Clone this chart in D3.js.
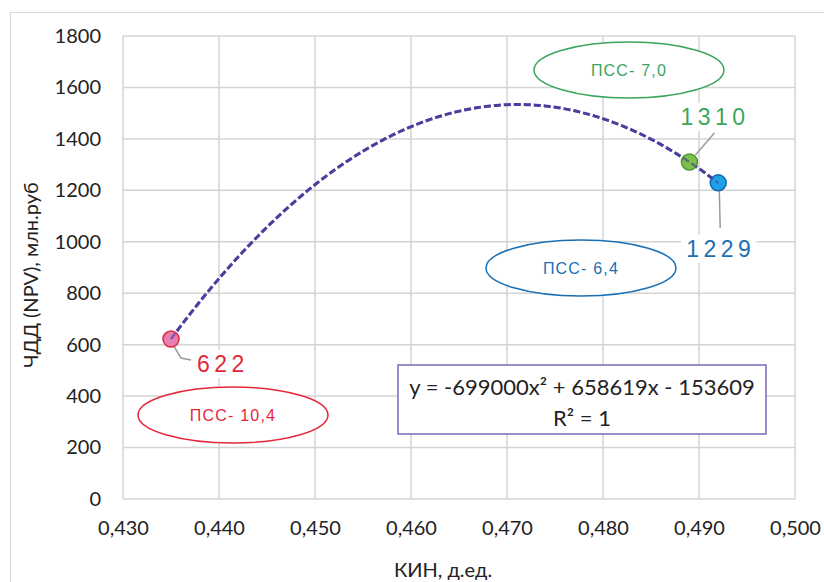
<!DOCTYPE html>
<html><head><meta charset="utf-8">
<script src="https://cdn.jsdelivr.net/npm/d3@7"></script>
<style>body{margin:0;background:#fff}svg{display:block}</style>
</head><body>
<script>
// data
const kin = [0.435, 0.489, 0.492];
const npv = [622, 1310, 1229];
const valueLabels = ["622", "1310", "1229"];
const scenarioLabels = ["ПСС- 10,4", "ПСС- 7,0", "ПСС- 6,4"];
const pointFill = ["#e87fb4", "#7cbf4a", "#1ea0e6"];
const pointStroke = ["#dc2b3c", "#4f9a36", "#1766ad"];
const labelColor = ["#e3273a", "#3aa55c", "#1a6fb3"];
const xTicks = [0.43, 0.44, 0.45, 0.46, 0.47, 0.48, 0.49, 0.50];
const yTicks = [0, 200, 400, 600, 800, 1000, 1200, 1400, 1600, 1800];
const trendCoef = [-699000, 658619, -153609]; // a, b, c from the chart equation
const equationText = "y = -699000x² + 658619x - 153609";
const r2Text = "R² = 1";

const W = 824, H = 582;
const svg = d3.select("body").append("svg").attr("width", W).attr("height", H);
const m = {left: 123, right: 795, top: 36, bottom: 499};
const x = d3.scaleLinear().domain([0.43, 0.50]).range([m.left, m.right]);
const y = d3.scaleLinear().domain([0, 1800]).range([m.bottom, m.top]);
const font = "Lato, 'Open Sans', sans-serif";
const arial = "'Liberation Sans', Arial, sans-serif";

// outer frame
svg.append("rect").attr("x", 10.5).attr("y", 12.5).attr("width", 830).attr("height", 600)
  .attr("fill", "none").attr("stroke", "#d9d9d9").attr("stroke-width", 1);

// grid
svg.append("g").selectAll("line").data(xTicks).join("line")
  .attr("x1", d => x(d)).attr("x2", d => x(d)).attr("y1", m.top).attr("y2", m.bottom)
  .attr("stroke", "#d4d4d4").attr("stroke-width", 1.5);
svg.append("g").selectAll("line").data(yTicks).join("line")
  .attr("x1", m.left).attr("x2", m.right).attr("y1", d => y(d)).attr("y2", d => y(d))
  .attr("stroke", "#d4d4d4").attr("stroke-width", 1.5);

// axes labels via d3 axes
const fmtX = d => d3.format(".3f")(d).replace(".", ",");
const gx = svg.append("g").attr("transform", `translate(0,${m.bottom})`)
  .call(d3.axisBottom(x).tickValues(xTicks).tickFormat(fmtX).tickSize(0).tickPadding(22));
const gy = svg.append("g").attr("transform", `translate(${m.left},0)`)
  .call(d3.axisLeft(y).tickValues(yTicks).tickFormat(d => String(d)).tickSize(0).tickPadding(22));
[gx, gy].forEach(g => {
  g.select(".domain").remove();
  g.selectAll("text").attr("font-family", font).attr("font-size", 20).attr("fill", "#222");
});

// axis titles
svg.append("text").attr("x", 443).attr("y", 577).attr("text-anchor", "middle")
  .attr("font-family", font).attr("font-size", 20).attr("fill", "#222").text("КИН, д.ед.");
svg.append("text").attr("transform", "translate(38,275) rotate(-90)").attr("text-anchor", "middle")
  .attr("font-family", font).attr("font-size", 20).attr("fill", "#222").text("ЧДД (NPV), млн.руб");

// leader lines
const leaders = [
  [[0, 2], [10, 19], [20, 21]],
  [[6, -7], [25, -29]],
  [[1, 4], [2, 45]]
];
svg.append("g").selectAll("polyline").data(leaders).join("polyline")
  .attr("points", (d, i) => d.map(p => [x(kin[i]) + p[0], y(npv[i]) + p[1]].join(",")).join(" "))
  .attr("fill", "none").attr("stroke", "#9a9a9a").attr("stroke-width", 1.5);

// value labels with white backgrounds
const valPos = [[26, 33], [-9, -37], [-32, 74]];
const vg = svg.append("g").selectAll("g").data(valueLabels).join("g")
  .attr("transform", (d, i) => `translate(${x(kin[i]) + valPos[i][0]},${y(npv[i]) + valPos[i][1]})`);
vg.append("rect").attr("x", -5).attr("y", -22).attr("height", 28)
  .attr("width", d => d.length * 17.3 + 6).attr("fill", "#fff");
vg.append("text").attr("font-family", arial).attr("font-size", 23)
  .attr("letter-spacing", 4.5).attr("fill", (d, i) => labelColor[i]).text(d => d);

// trendline
const xs = d3.range(0, 121).map(i => kin[0] + (kin[2] - kin[0]) * i / 120);
const line = d3.line().x(d => x(d)).y(d => y(trendCoef[0] * d * d + trendCoef[1] * d + trendCoef[2]));
svg.append("path").datum(xs).attr("d", line).attr("fill", "none")
  .attr("stroke", "#4a3f9c").attr("stroke-width", 3).attr("stroke-dasharray", "7,3");

// points
svg.append("g").selectAll("circle").data(kin).join("circle")
  .attr("cx", d => x(d)).attr("cy", (d, i) => y(npv[i])).attr("r", 8)
  .attr("fill", (d, i) => pointFill[i]).attr("stroke", (d, i) => pointStroke[i]).attr("stroke-width", 1.5);
// faint dashed line over points
svg.append("path").datum(xs).attr("d", line).attr("fill", "none")
  .attr("stroke", "#4a3f9c").attr("stroke-width", 2.5).attr("stroke-dasharray", "7,3").attr("opacity", 0.6);

// scenario ellipses
const ell = [[233, 415], [629, 70], [581, 268]];
const eg = svg.append("g").selectAll("g").data(scenarioLabels).join("g")
  .attr("transform", (d, i) => `translate(${ell[i][0]},${ell[i][1]})`);
eg.append("ellipse").attr("rx", 95).attr("ry", 28).attr("fill", "#fff")
  .attr("stroke", (d, i) => labelColor[i]).attr("stroke-width", 1.5);
eg.append("text").attr("text-anchor", "middle").attr("dy", "0.35em")
  .attr("font-family", arial).attr("font-size", 16)
  .attr("letter-spacing", 1.2).attr("fill", (d, i) => labelColor[i]).text(d => d);

// equation box
svg.append("rect").attr("x", 398).attr("y", 365).attr("width", 368).attr("height", 69)
  .attr("fill", "#fff").attr("stroke", "#7a68b8").attr("stroke-width", 1.5);
svg.append("text").attr("x", 582).attr("y", 395).attr("text-anchor", "middle")
  .attr("font-family", font).attr("font-size", 22).attr("fill", "#222").text(equationText);
svg.append("text").attr("x", 582).attr("y", 426).attr("text-anchor", "middle")
  .attr("font-family", font).attr("font-size", 22).attr("fill", "#222").text(r2Text);
</script>
</body></html>
